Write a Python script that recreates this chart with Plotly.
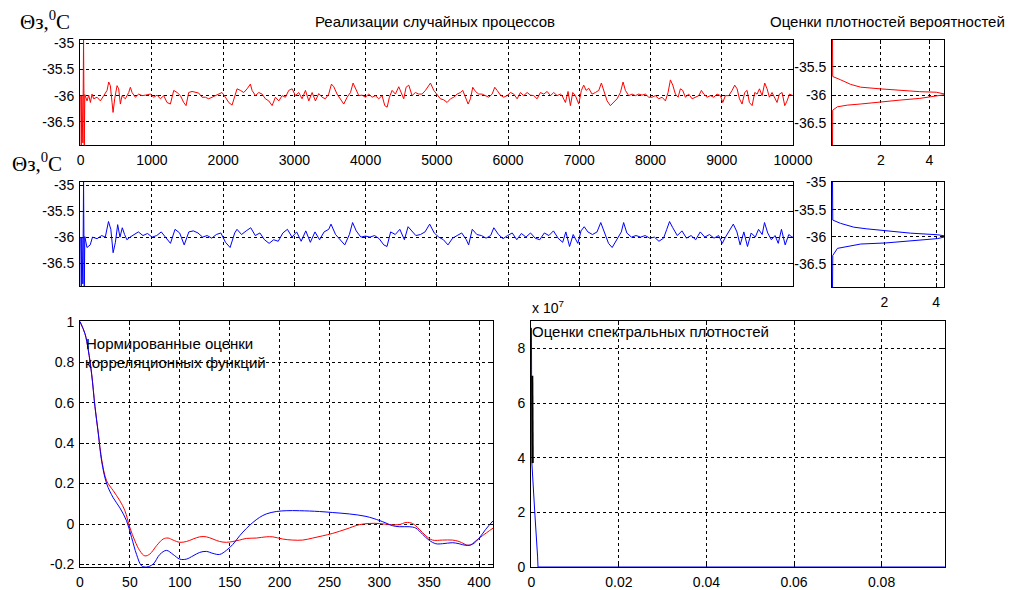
import plotly.graph_objects as go

# ---------------- data ----------------
red_t = [0, 8, 16, 30, 40, 50, 58, 65, 89, 112,
         136, 159, 182, 229, 276, 323, 370, 393, 416, 440,
         454, 477, 510, 533, 557, 580, 627, 674, 697, 721,
         767, 814, 861, 908, 978, 1025, 1072, 1119, 1165, 1212,
         1259, 1306, 1353, 1400, 1446, 1479, 1516, 1563, 1610, 1656,
         1703, 1750, 1797, 1844, 1891, 1938, 1984, 2031, 2078, 2125,
         2172, 2195, 2242, 2289, 2336, 2382, 2406, 2453, 2500, 2546,
         2593, 2640, 2687, 2734, 2781, 2828, 2874, 2921, 2968, 3015,
         3061, 3108, 3155, 3202, 3249, 3295, 3342, 3389, 3435, 3482,
         3520, 3553, 3599, 3646, 3693, 3740, 3787, 3824, 3857, 3904,
         3951, 3997, 4044, 4091, 4138, 4184, 4231, 4269, 4302, 4334,
         4372, 4418, 4465, 4503, 4535, 4568, 4606, 4652, 4699, 4746,
         4793, 4840, 4910, 4957, 5003, 5050, 5097, 5144, 5191, 5237,
         5284, 5331, 5364, 5401, 5439, 5471, 5504, 5542, 5588, 5635,
         5682, 5729, 5776, 5813, 5846, 5893, 5939, 5986, 6033, 6080,
         6127, 6173, 6220, 6267, 6314, 6361, 6407, 6454, 6501, 6548,
         6595, 6641, 6688, 6735, 6758, 6805, 6842, 6875, 6908, 6945,
         6992, 7029, 7062, 7095, 7132, 7179, 7226, 7273, 7310, 7343,
         7390, 7436, 7483, 7530, 7577, 7614, 7647, 7694, 7741, 7788,
         7834, 7881, 7928, 7975, 8021, 8068, 8115, 8162, 8209, 8246,
         8279, 8312, 8349, 8387, 8419, 8452, 8489, 8536, 8583, 8630,
         8677, 8714, 8747, 8794, 8841, 8887, 8934, 8981, 9014, 9051,
         9098, 9145, 9182, 9215, 9248, 9285, 9322, 9355, 9388, 9426,
         9463, 9496, 9529, 9566, 9603, 9636, 9669, 9706, 9744, 9776,
         9809, 9847, 9884, 9917, 9950, 9987, 10000]
red_v = [-36.00, -36.94, -36.00, -36.90, -34.94, -36.94, -35.98, -36.00, -36.10, -35.99,
         -36.13, -35.97, -36.06, -36.03, -36.10, -36.00, -35.90, -35.74, -35.81, -36.13,
         -36.32, -36.06, -35.81, -35.87, -36.16, -36.00, -36.06, -35.94, -35.84, -35.94,
         -36.03, -35.97, -36.00, -35.99, -35.97, -36.03, -35.99, -36.06, -36.00, -36.13,
         -36.16, -35.90, -35.94, -36.00, -36.13, -36.19, -35.94, -35.92, -35.94, -35.95,
         -36.03, -36.03, -36.06, -36.03, -36.00, -35.97, -35.94, -36.03, -36.13, -36.18,
         -36.00, -35.87, -35.90, -35.94, -35.87, -35.78, -35.90, -36.00, -35.94, -35.97,
         -36.06, -36.10, -36.19, -36.03, -36.10, -36.00, -36.03, -35.90, -35.87, -36.00,
         -35.94, -36.06, -35.90, -36.10, -35.94, -36.10, -35.96, -36.03, -36.06, -35.97,
         -35.78, -35.83, -35.97, -36.06, -36.16, -36.03, -35.94, -35.76, -35.87, -36.00,
         -35.99, -36.03, -35.97, -36.03, -36.00, -36.06, -36.00, -36.19, -36.22, -36.03,
         -35.90, -35.97, -35.83, -35.94, -36.06, -35.84, -35.80, -36.00, -35.94, -35.97,
         -35.97, -35.90, -35.76, -35.90, -35.99, -36.06, -36.08, -36.13, -36.06, -36.03,
         -35.97, -35.94, -35.90, -36.03, -36.16, -36.06, -35.84, -35.92, -35.97, -35.97,
         -36.00, -36.03, -35.97, -35.84, -35.90, -35.99, -36.03, -36.00, -35.94, -35.97,
         -36.06, -35.94, -36.00, -35.94, -35.99, -36.00, -36.06, -35.94, -35.97, -35.92,
         -36.00, -35.94, -36.00, -35.97, -36.00, -36.13, -35.92, -36.19, -35.94, -36.00,
         -36.16, -35.90, -35.80, -35.90, -35.86, -35.97, -35.94, -35.90, -35.76, -35.90,
         -36.10, -36.19, -36.13, -36.06, -35.94, -35.74, -35.90, -36.00, -35.97, -36.00,
         -35.97, -35.99, -35.97, -36.03, -36.03, -36.00, -36.06, -36.03, -36.10, -35.94,
         -35.70, -35.80, -35.97, -36.03, -35.87, -35.90, -36.03, -35.97, -36.06, -36.03,
         -36.00, -35.90, -35.97, -36.03, -36.00, -36.03, -35.97, -36.00, -36.13, -36.00,
         -36.00, -35.90, -35.80, -35.87, -36.06, -36.16, -35.94, -35.90, -36.13, -36.19,
         -35.94, -35.97, -35.87, -36.00, -35.76, -35.87, -36.03, -35.94, -36.06, -36.13,
         -35.97, -35.94, -36.19, -36.10, -35.97, -36.00, -36.00]

blue_t = [0, 8, 16, 30, 40, 50, 58, 88, 133, 165,
          230, 294, 345, 390, 423, 455, 487, 519, 551, 584,
          616, 648, 693, 745, 809, 874, 938, 1002, 1067, 1131,
          1196, 1260, 1324, 1389, 1453, 1518, 1582, 1646, 1711, 1775,
          1840, 1904, 1968, 2033, 2097, 2162, 2194, 2258, 2323, 2387,
          2451, 2516, 2580, 2645, 2709, 2773, 2838, 2902, 2967, 3031,
          3095, 3160, 3224, 3289, 3353, 3417, 3482, 3514, 3578, 3643,
          3707, 3772, 3817, 3868, 3933, 3997, 4061, 4126, 4190, 4255,
          4300, 4351, 4416, 4480, 4544, 4596, 4641, 4705, 4770, 4834,
          4899, 4963, 5027, 5092, 5156, 5221, 5285, 5349, 5414, 5446,
          5497, 5562, 5626, 5691, 5755, 5800, 5865, 5929, 5993, 6058,
          6122, 6187, 6251, 6315, 6380, 6444, 6509, 6573, 6637, 6702,
          6766, 6811, 6863, 6914, 6979, 7024, 7069, 7120, 7185, 7249,
          7301, 7346, 7410, 7461, 7526, 7590, 7622, 7667, 7732, 7796,
          7861, 7925, 7989, 8054, 8118, 8183, 8228, 8267, 8312, 8376,
          8441, 8505, 8569, 8634, 8698, 8762, 8827, 8891, 8956, 9007,
          9052, 9117, 9162, 9213, 9258, 9310, 9361, 9413, 9471, 9516,
          9567, 9600, 9645, 9696, 9748, 9793, 9838, 9890, 9941, 9986,
          10000]
blue_v = [-36.00, -36.94, -36.00, -36.90, -34.94, -36.94, -35.99, -36.20, -36.15, -36.00,
          -36.03, -35.97, -36.00, -35.70, -35.85, -36.30, -36.10, -35.76, -36.00, -35.82,
          -35.95, -36.05, -36.00, -35.95, -35.90, -35.97, -35.93, -36.00, -35.97, -35.90,
          -36.00, -36.12, -35.85, -35.92, -36.15, -35.90, -35.88, -35.92, -36.00, -35.97,
          -36.02, -35.95, -35.92, -36.10, -36.20, -35.92, -35.85, -35.95, -35.88, -35.82,
          -35.97, -35.92, -36.05, -36.12, -36.05, -36.08, -35.92, -35.85, -36.00, -35.90,
          -36.08, -35.88, -36.10, -35.90, -36.05, -35.90, -35.85, -35.75, -35.95, -36.05,
          -36.15, -35.95, -35.72, -35.88, -36.00, -35.98, -36.00, -35.97, -36.03, -36.15,
          -36.18, -35.90, -35.95, -35.85, -36.05, -35.80, -35.88, -35.97, -35.95, -35.90,
          -35.75, -35.92, -36.00, -36.05, -36.15, -36.02, -35.97, -35.92, -36.05, -36.15,
          -35.85, -35.95, -35.97, -36.02, -35.97, -35.82, -35.95, -36.03, -35.97, -35.92,
          -36.05, -35.93, -36.00, -35.92, -36.02, -36.05, -35.92, -35.97, -35.88, -36.02,
          -36.10, -35.90, -36.18, -35.95, -36.12, -35.88, -35.80, -35.90, -35.95, -35.90,
          -35.72, -35.90, -36.12, -36.20, -36.05, -35.90, -35.72, -35.92, -36.00, -35.97,
          -36.00, -35.97, -36.02, -36.00, -36.08, -36.02, -35.85, -35.70, -35.82, -35.97,
          -35.88, -36.02, -35.97, -36.05, -35.90, -36.00, -35.95, -36.02, -35.97, -36.12,
          -36.00, -35.85, -35.75, -35.90, -36.15, -35.90, -36.18, -35.92, -36.00, -35.85,
          -35.95, -35.72, -35.92, -36.05, -35.97, -36.12, -35.85, -36.15, -35.95, -36.00,
          -36.00]

# probability density estimates (value axis vertical, density horizontal)
dens_red_val = [-36.94, -36.27, -36.21, -36.18, -36.16, -36.12, -36.09, -36.06, -36.02, -36.00,
                -35.99, -35.98, -35.95, -35.94, -35.92, -35.89, -35.86, -35.81, -35.73, -35.67, -34.94]
dens_red = [0.0, 0.01, 0.2, 0.61, 1.16, 1.97, 2.79, 3.6, 4.28, 4.6,
            4.7, 4.6, 4.28, 3.6, 2.79, 1.97, 1.16, 0.75, 0.34, 0.01, 0.0]
dens_blue_val = [-36.92, -36.34, -36.21, -36.17, -36.13, -36.11, -36.07, -36.03, -36.00, -35.99,
                 -35.98, -35.96, -35.93, -35.89, -35.85, -35.82, -35.75, -35.69, -34.99]
dens_blue = [0.0, 0.01, 0.19, 0.58, 1.09, 2.06, 3.0, 4.06, 4.32, 4.4,
             4.32, 4.06, 3.0, 2.06, 1.3, 0.82, 0.31, 0.01, 0.0]

# normalised correlation function estimates
lag_red = [0, 5, 8.3, 11.7, 15, 18.3, 21.7, 26.7, 33.3, 40,
           45, 50, 55, 60, 65, 70, 76.7, 83.3, 88.3, 93.3,
           100, 106.7, 113.3, 120, 126.7, 133.3, 140, 146.7, 153.3, 160,
           166.7, 176.7, 186.7, 193.3, 203.3, 213.3, 223.3, 233.3, 243.3, 253.3,
           266.7, 280, 290, 300, 310, 320, 326.7, 333.3, 340, 346.7,
           353.3, 363.3, 373.3, 380, 390, 396.7, 403.3, 414]
corr_red = [1.0, 0.94, 0.86, 0.74, 0.58, 0.45, 0.32, 0.214, 0.165, 0.115,
            0.066, -0.017, -0.083, -0.132, -0.157, -0.148, -0.107, -0.074, -0.069, -0.079,
            -0.09, -0.086, -0.074, -0.063, -0.063, -0.074, -0.086, -0.09, -0.086, -0.079,
            -0.071, -0.069, -0.063, -0.063, -0.074, -0.079, -0.079, -0.069, -0.058, -0.046,
            -0.025, -0.003, 0.003, 0.003, -0.003, -0.003, 0.008, 0.003, -0.025, -0.058,
            -0.079, -0.079, -0.079, -0.086, -0.105, -0.083, -0.058, -0.02]
lag_blue = [0, 5, 8.3, 11.7, 15, 18.3, 21.7, 26.7, 33.3, 40,
            46.7, 51.7, 56.7, 61.7, 66.7, 73.3, 80, 86.7, 93.3, 100,
            106.7, 113.3, 120, 126.7, 133.3, 140, 146.7, 153.3, 160, 166.7,
            173.3, 180, 186.7, 196.7, 206.7, 220, 240, 253.3, 270, 286.7,
            300, 306.7, 313.3, 320, 330, 336.7, 343.3, 350, 356.7, 363.3,
            373.3, 380, 386.7, 393.3, 400, 406.7, 414]
corr_blue = [1.0, 0.94, 0.86, 0.74, 0.58, 0.45, 0.31, 0.20, 0.13, 0.08,
             0.016, -0.066, -0.15, -0.206, -0.212, -0.198, -0.15, -0.13, -0.15, -0.173,
             -0.173, -0.157, -0.14, -0.135, -0.145, -0.15, -0.13, -0.10, -0.058, -0.022,
             0.008, 0.033, 0.05, 0.062, 0.066, 0.066, 0.062, 0.057, 0.05, 0.038,
             0.018, 0.005, -0.008, -0.013, -0.013, -0.02, -0.05, -0.08, -0.097, -0.097,
             -0.092, -0.097, -0.105, -0.10, -0.07, -0.026, 0.016]

# spectral density estimates
freq_blue = [0, 0.0001, 0.0008, 0.0012, 0.0014, 0.0015, 0.0945]
spec_blue = [8.75e7, 3.8e7, 1.9e7, 1.1e7, 0.4e7, 0.0, 0.0]
freq_dark = [0.0002, 0.0003]
spec_dark = [7.0e7, 3.8e7]

# ticks
t_ticks = [0, 1000, 2000, 3000, 4000, 5000, 6000, 7000, 8000, 9000, 10000]
t_labels = ["0", "1000", "2000", "3000", "4000", "5000", "6000", "7000", "8000", "9000", "10000"]
temp_ticks = [-36.5, -36.0, -35.5, -35.0]
temp_labels = ["-36.5", "-36", "-35.5", "-35"]
dens_ticks = [2, 4]
dens_labels = ["2", "4"]
lag_ticks = [0, 50, 100, 150, 200, 250, 300, 350, 400]
lag_labels = ["0", "50", "100", "150", "200", "250", "300", "350", "400"]
corr_ticks = [-0.2, 0, 0.2, 0.4, 0.6, 0.8, 1.0]
corr_labels = ["-0.2", "0", "0.2", "0.4", "0.6", "0.8", "1"]
freq_ticks = [0, 0.02, 0.04, 0.06, 0.08]
freq_labels = ["0", "0.02", "0.04", "0.06", "0.08"]
spec_ticks = [0, 2e7, 4e7, 6e7, 8e7]
spec_labels = ["0", "2", "4", "6", "8"]

# ---------------- layout helpers ----------------
W, H = 1012, 590
SANS = "Liberation Sans, Arial, sans-serif"
SERIF = "Liberation Serif, Times New Roman, serif"
FS_TICK = 14
FS_TEXT = 15


def dx(a, b):
    return [a / W, b / W]


def dy(top, bottom):
    return [1 - bottom / H, 1 - top / H]


def axis(domain, rng, tickvals, ticktext, anchor, show_labels=True):
    return dict(domain=domain, range=rng, anchor=anchor, automargin=False,
                tickmode="array", tickvals=tickvals, ticktext=ticktext,
                showticklabels=show_labels,
                showline=True, linecolor="black", linewidth=1, mirror="ticks",
                showgrid=True, gridcolor="black", gridwidth=1, griddash="3px,3px",
                ticks="inside", ticklen=4, tickcolor="black", zeroline=False,
                layer="below traces", ticklabelstandoff=2,
                tickfont=dict(family=SANS, size=FS_TICK, color="black"))


RED = "#ff0000"
BLUE = "#0000ff"

fig = go.Figure()
fig.add_trace(go.Scatter(x=red_t, y=red_v, mode="lines", line=dict(color=RED, width=1),
                         xaxis="x", yaxis="y"))
fig.add_trace(go.Scatter(x=dens_red, y=dens_red_val, mode="lines", line=dict(color=RED, width=1),
                         xaxis="x2", yaxis="y2"))
fig.add_trace(go.Scatter(x=blue_t, y=blue_v, mode="lines", line=dict(color=BLUE, width=1),
                         xaxis="x3", yaxis="y3"))
fig.add_trace(go.Scatter(x=dens_blue, y=dens_blue_val, mode="lines", line=dict(color=BLUE, width=1),
                         xaxis="x4", yaxis="y4"))
fig.add_trace(go.Scatter(x=lag_red, y=corr_red, mode="lines", line=dict(color=RED, width=1, shape="spline"),
                         xaxis="x5", yaxis="y5"))
fig.add_trace(go.Scatter(x=lag_blue, y=corr_blue, mode="lines", line=dict(color=BLUE, width=1, shape="spline"),
                         xaxis="x5", yaxis="y5"))
fig.add_trace(go.Scatter(x=freq_blue, y=spec_blue, mode="lines", line=dict(color=BLUE, width=1),
                         xaxis="x6", yaxis="y6"))
fig.add_trace(go.Scatter(x=freq_dark, y=spec_dark, mode="lines", line=dict(color="black", width=2),
                         xaxis="x6", yaxis="y6"))

layout = dict(
    width=W, height=H, autosize=False, margin=dict(l=0, r=0, t=0, b=0, pad=0),
    paper_bgcolor="white", plot_bgcolor="white", showlegend=False,
    xaxis=axis(dx(80, 793), [-10, 10000], t_ticks, t_labels, "y"),
    yaxis=axis(dy(40, 145), [-36.94, -34.94], temp_ticks, temp_labels, "x"),
    xaxis2=axis(dx(832, 944), [-0.02, 4.6], dens_ticks, dens_labels, "y2"),
    yaxis2=axis(dy(40, 145), [-36.89, -35.02], temp_ticks, temp_labels, "x2"),
    xaxis3=axis(dx(80, 793), [-10, 10000], t_ticks, t_labels, "y3", show_labels=False),
    yaxis3=axis(dy(182, 286), [-36.94, -34.94], temp_ticks, temp_labels, "x3"),
    xaxis4=axis(dx(832, 944), [-0.02, 4.3], dens_ticks, dens_labels, "y4"),
    yaxis4=axis(dy(182, 287), [-36.92, -34.99], temp_ticks, temp_labels, "x4"),
    xaxis5=axis(dx(80, 493), [0, 414], lag_ticks, lag_labels, "y5"),
    yaxis5=axis(dy(321, 567), [-0.212, 1.003], corr_ticks, corr_labels, "x5"),
    xaxis6=axis(dx(531, 945), [-0.0001, 0.0945], freq_ticks, freq_labels, "y6"),
    yaxis6=axis(dy(321, 567), [0, 9.0e7], spec_ticks, spec_labels, "x6"),
)


def note(text, px, py, xanchor="left", size=FS_TEXT, family=SANS):
    return dict(text=text, x=px / W, y=1 - py / H, xref="paper", yref="paper",
                xanchor=xanchor, yanchor="middle", showarrow=False,
                font=dict(family=family, size=size, color="black"))


layout["annotations"] = [
    note("Реализации случайных процессов", 435, 22, "center"),
    note("Оценки плотностей вероятностей", 887, 22, "center"),
    note("Θз,<sup>0</sup>C", 18, 21, "left", size=21, family=SERIF),
    note("Θз,<sup>0</sup>C", 10, 163, "left", size=21, family=SERIF),
    note("Нормированные оценки", 84, 343),
    note("корреляционных функций", 83, 362),
    note("Оценки спектральных плотностей", 530, 331),
    note("x 10<sup>7</sup>", 530, 307, size=FS_TICK),
]

fig.update_layout(**layout)
fig.write_html("out.html")
